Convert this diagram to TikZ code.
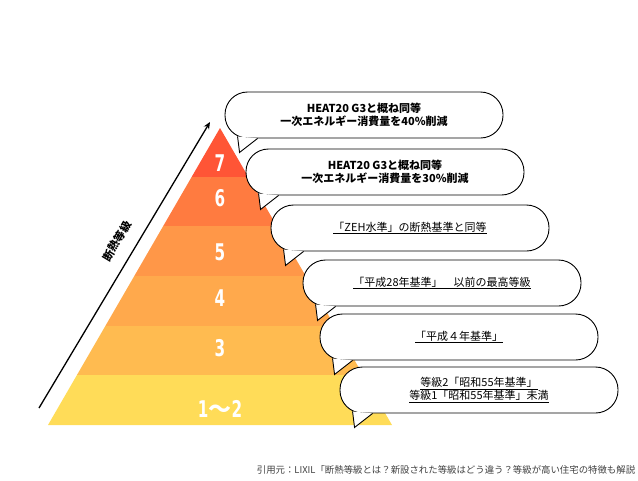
\documentclass[tikz,border=0pt]{standalone}
\usepackage{fontspec}
\setmainfont{Noto Sans CJK JP}
\newfontfamily\numfont{DejaVu Sans}[FakeStretch=0.66]
\usetikzlibrary{arrows.meta,calc}

\definecolor{lvSeven}{HTML}{FF5536}
\definecolor{lvSix}{HTML}{FF7B40}
\definecolor{lvFive}{HTML}{FF9748}
\definecolor{lvFour}{HTML}{FFA94C}
\definecolor{lvThree}{HTML}{FFBB50}
\definecolor{lvOne}{HTML}{FFDC58}

\begin{document}
\begin{tikzpicture}[
        x=1pt, y=-1pt,
        bubble/.style={rectangle, draw, line width=0.9pt, fill=white,
            rounded corners=22.5pt, minimum width=278pt, minimum height=46pt,
            inner sep=0pt, align=center, font=\fontsize{11}{13.5}\selectfont},
        tail/.style={draw, line width=0.9pt, fill=white, line join=miter},
        level/.style={text=white, font=\numfont\bfseries\fontsize{23}{23}\selectfont},
        rise/.style={-{Stealth[length=7pt,width=6pt]}, line width=1.3pt},
    ]
        \useasboundingbox (0,0) rectangle (638,480);

        % Pyramid
        \begin{scope}
            \clip (48,425) -- (220,128) -- (392,425) -- cycle;
            \fill[lvSeven] (40,120) rectangle (400,177);
            \fill[lvSix] (40,177) rectangle (400,226);
            \fill[lvFive] (40,226) rectangle (400,276);
            \fill[lvFour] (40,276) rectangle (400,326);
            \fill[lvThree] (40,326) rectangle (400,375);
            \fill[lvOne] (40,375) rectangle (400,430);
        \end{scope}

        % Levels
        \node[level] (n7) at (220,163) {7};
        \node[level] (n6) at (220,198) {6};
        \node[level] (n5) at (220,252) {5};
        \node[level] (n4) at (220,298) {4};
        \node[level] (n3) at (220,348) {3};
        \node[level] (n12) at (220,409) {1{\rmfamily\bfseries〜}2};

        % Axis
        \coordinate (axisS) at (39,408);
        \coordinate (axisE) at (210,122);
        \draw[rise] (axisS) -- (axisE);
        \node[rotate=59, inner sep=0pt, font=\bfseries\fontsize{11}{11}\selectfont] (axis) at (117,241) {断熱等級};

        % Bubbles
        \node[bubble, font=\bfseries\fontsize{11}{13}\selectfont] (b7) at (364,115)
            {HEAT20 G3と概ね同等\\一次エネルギー消費量を40\%削減};
        \node[bubble, font=\bfseries\fontsize{11}{13}\selectfont] (b6) at (385,172)
            {HEAT20 G3と概ね同等\\一次エネルギー消費量を30\%削減};
        \node[bubble] (b5) at (410,228) {\underline{「ZEH水準」の断熱基準と同等}};
        \node[bubble] (b4) at (442,283) {\underline{「平成28年基準」　以前の最高等級}};
        \node[bubble] (b3) at (459,337) {\underline{「平成４年基準」}};
        \node[bubble] (b12) at (479,390)
            {\underline{等級2「昭和55年基準」}\\\underline{等級1「昭和55年基準」未満}};
        \foreach \b in {b7,b6,b5,b4,b3,b12}
            \filldraw[tail] ($(\b.south west)+(13,-2)$) -- ($(\b.south west)+(15,14)$)
                -- ($(\b.south west)+(33,0)$);

        % Source
        \node[text=black!75, font=\fontsize{9.4}{11}\selectfont] (src) at (446,470)
            {引用元：LIXIL「断熱等級とは？新設された等級はどう違う？等級が高い住宅の特徴も解説};
    \end{tikzpicture}
\end{document}
